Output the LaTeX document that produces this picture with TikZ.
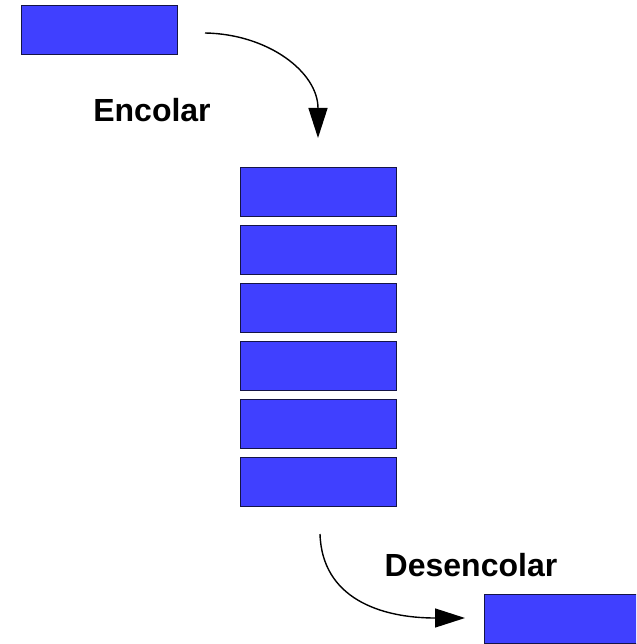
\documentclass[tikz,border=0pt]{standalone}
\usepackage{fontspec}
\setmainfont{Liberation Sans}
\usetikzlibrary{arrows.meta}
\definecolor{qblue}{RGB}{64,64,255}
\definecolor{qedge}{RGB}{20,20,70}
\begin{document}
\begin{tikzpicture}[x=1pt,y=-1pt,
  elem/.style={draw=qedge, line width=1.4pt, fill=qblue,
    minimum width=156pt, minimum height=49pt, inner sep=0pt, anchor=north west},
  lbl/.style={font=\bfseries\fontsize{32}{36}\selectfont, inner sep=0pt},
  flow/.style={line width=1.4pt, -{Triangle[length=30pt,width=19pt]}}]
\useasboundingbox (0,0) rectangle (636,644);
\begin{scope}
\clip (0,0) rectangle (636,644);

% element waiting to enter the queue
\node[elem] (new) at (21,5) {};

% the queue itself
\node[elem] (q1) at (240,167) {};
\node[elem] (q2) at (240,225) {};
\node[elem] (q3) at (240,283) {};
\node[elem] (q4) at (240,341) {};
\node[elem] (q5) at (240,399) {};
\node[elem] (q6) at (240,457) {};

% element leaving the queue (runs past the right edge)
\node[elem, minimum width=220pt] (out) at (484,594) {};

% labels
\node[lbl] (enc) at (152,110) {Encolar};
\node[lbl] (des) at (471,565) {Desencolar};

% arrow ends
\coordinate (a1s) at (205,33);
\coordinate (a1e) at (318,138);
\coordinate (a2s) at (320,534);
\coordinate (a2e) at (465,618);

\draw[flow] (a1s) .. controls (268,34) and (318,72) .. (a1e);
\draw[flow] (a2s) .. controls (322,598) and (380,618) .. (a2e);
\end{scope}
\end{tikzpicture}
\end{document}
